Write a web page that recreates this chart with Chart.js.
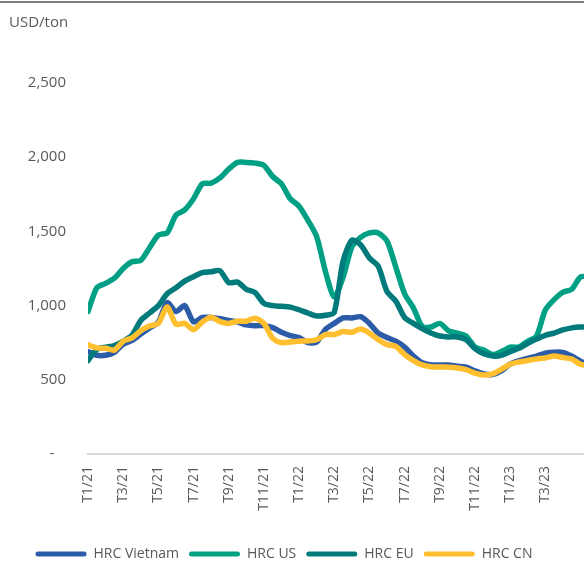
<!DOCTYPE html>
<html>
<head>
<meta charset="utf-8">
<script src="https://cdn.jsdelivr.net/npm/chart.js@4"></script>
<style>
  html, body { margin: 0; padding: 0; background: #fff; overflow: hidden; }
  #wrap { position: relative; width: 584px; height: 563px; }
  #topRule { position: absolute; left: 0; top: 1px; width: 584px; height: 2px; background: #7f7f7f; }
</style>
</head>
<body>
<div id="wrap">
  <canvas id="hrcChart" width="584" height="563"></canvas>
  <div id="topRule"></div>
</div>
<script>
// Tháng tính từ T1/21 (bước nửa tháng)
const months = [0, 0.5, 1, 1.5, 2, 2.5, 3, 3.5, 4, 4.5, 5, 5.5, 6, 6.5, 7, 7.5, 8, 8.5, 9, 9.5,
  10, 10.5, 11, 11.5, 12, 12.5, 13, 13.5, 14, 14.5, 15, 15.5, 16, 16.5, 17, 17.5, 18, 18.5, 19, 19.5,
  20, 20.5, 21, 21.5, 22, 22.5, 23, 23.5, 24, 24.5, 25, 25.5, 26, 26.5, 27, 27.5, 28, 28.5];

const tickLabels = ['T1/21', 'T3/21', 'T5/21', 'T7/21', 'T9/21', 'T11/21', 'T1/22',
  'T3/22', 'T5/22', 'T7/22', 'T9/22', 'T11/22', 'T1/23', 'T3/23'];

// Giá HRC (USD/tấn)
const hrcVietnam = [690, 665, 665, 685, 740, 765, 808, 850, 888, 1020, 960, 1000, 890, 920, 920, 912, 900, 890, 870, 865,
  865, 852, 820, 798, 785, 750, 755, 840, 880, 917, 917, 925, 880, 815, 785, 760, 720, 660, 615, 600,
  600, 600, 592, 586, 560, 540, 535, 560, 605, 628, 645, 660, 680, 686, 685, 660, 625, 600];

const hrcUS = [960, 1120, 1150, 1185, 1250, 1295, 1305, 1390, 1475, 1490, 1610, 1645, 1720, 1820, 1825, 1860, 1920, 1965, 1965, 1960,
  1945, 1870, 1820, 1720, 1670, 1575, 1465, 1230, 1058, 1190, 1395, 1460, 1490, 1490, 1435, 1260, 1080, 985, 860, 856,
  880, 830, 815, 795, 720, 700, 670, 690, 720, 720, 760, 795, 970, 1040, 1090, 1110, 1193, 1195];

const hrcEU = [630, 705, 720, 730, 760, 800, 900, 950, 1000, 1080, 1120, 1165, 1195, 1222, 1228, 1235, 1155, 1158, 1110, 1088,
  1015, 1000, 995, 990, 972, 950, 930, 935, 955, 1300, 1440, 1410, 1320, 1265, 1095, 1030, 920, 880, 845, 815,
  795, 789, 789, 770, 710, 675, 660, 665, 690, 712, 745, 775, 800, 815, 836, 850, 856, 856];

const hrcCN = [735, 715, 712, 700, 760, 782, 830, 862, 880, 990, 875, 880, 838, 890, 922, 892, 880, 895, 895, 915,
  880, 780, 750, 755, 760, 762, 770, 805, 805, 825, 820, 842, 815, 770, 737, 725, 670, 630, 600, 588,
  586, 585, 580, 568, 545, 532, 540, 570, 605, 620, 630, 640, 647, 660, 650, 640, 605, 595];

const seriesNames = ['HRC Vietnam', 'HRC US', 'HRC EU', 'HRC CN'];
const seriesColors = ['#2c5ca8', '#00a085', '#007a7b', '#ffbf2e'];
const seriesValues = [hrcVietnam, hrcUS, hrcEU, hrcCN];

const textColor = '#595959';
const fontFamily = '"Open Sans", "Liberation Sans", sans-serif';

// Chú thích đơn vị ở góc trên bên trái
const unitLabel = {
  id: 'unitLabel',
  afterDraw(chart) {
    const ctx = chart.ctx;
    ctx.save();
    ctx.font = '15px ' + fontFamily;
    ctx.fillStyle = textColor;
    ctx.textBaseline = 'middle';
    ctx.fillText('USD/ton', 9, 23);
    ctx.restore();
  }
};

// Dịch chú giải sang trái/xuống một chút
const legendShift = {
  id: 'legendShift',
  afterLayout(chart) {
    const lg = chart.legend;
    lg.left -= 8; lg.right -= 8;
    lg.top += 8; lg.bottom += 8;
  }
};

const datasets = seriesNames.map((name, i) => ({
  label: name,
  data: months.map((m, j) => ({ x: m, y: seriesValues[i][j] })),
  borderColor: seriesColors[i],
  backgroundColor: seriesColors[i],
  borderWidth: 5.5,
  borderCapStyle: 'round',
  borderJoinStyle: 'round',
  pointRadius: 0,
  tension: 0.25,
  order: seriesNames.length - i
}));

new Chart(document.getElementById('hrcChart'), {
  type: 'line',
  data: { datasets },
  options: {
    responsive: false,
    animation: false,
    layout: { padding: { top: 83, left: 0, right: 0, bottom: 0 } },
    plugins: {
      tooltip: { enabled: false },
      legend: {
        position: 'bottom',
        labels: {
          color: textColor,
          font: { family: fontFamily, size: 14 },
          boxWidth: 51,
          boxHeight: 5,
          padding: 10,
          useBorderRadius: true,
          borderRadius: 2.5,
          sort: (a, b) => a.datasetIndex - b.datasetIndex,
          generateLabels: chart => Chart.defaults.plugins.legend.labels.generateLabels(chart)
            .map(item => ({ ...item, lineWidth: 0 }))
        }
      }
    },
    scales: {
      x: {
        type: 'linear',
        min: 0,
        max: 28.2,
        grid: { display: false, drawTicks: false },
        border: { display: true, color: '#d9d9d9', width: 2 },
        afterFit: scale => { scale.height = 75; },
        ticks: {
          stepSize: 2,
          autoSkip: false,
          minRotation: 90,
          maxRotation: 90,
          padding: 12,
          color: textColor,
          font: { family: fontFamily, size: 14 },
          callback: v => (Number.isInteger(v / 2) && tickLabels[v / 2]) ? tickLabels[v / 2] : null
        }
      },
      y: {
        min: 0,
        max: 2500,
        grid: { display: false, drawTicks: false },
        border: { display: false },
        afterFit: scale => { scale.width = 88; },
        ticks: {
          stepSize: 500,
          padding: 22,
          color: textColor,
          font: { family: fontFamily, size: 15 },
          callback: v => v === 0 ? '-   ' : v.toLocaleString('en-US')
        }
      }
    }
  },
  plugins: [unitLabel, legendShift]
});
</script>
</body>
</html>
